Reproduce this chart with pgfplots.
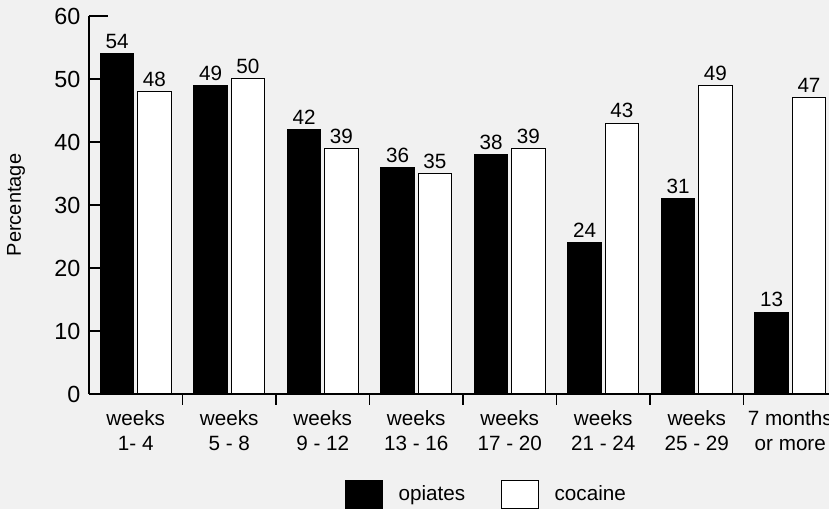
\documentclass[border=0pt]{standalone}
\usepackage{fontspec}
\setmainfont{Liberation Sans}
\usepackage{pgfplots}
\pgfplotsset{compat=1.18}
\definecolor{paper}{HTML}{F1F1F1}
\newcommand{\chartfont}{\fontsize{15.5}{18.75}\selectfont}

\begin{document}
\begin{tikzpicture}
% page frame and background
\fill[paper] (-66.75pt,-86.25pt) rectangle (555pt,295.5pt);
\useasboundingbox (-66.75pt,-86.25pt) rectangle (555pt,295.5pt);
\begin{axis}[
  at={(0pt,0pt)}, anchor=south west,
  scale only axis,
  width=555pt, height=283.5pt,
  xmin=-0.5, xmax=7.414,
  ymin=0, ymax=60,
  axis x line=bottom, axis y line=left,
  axis line style={-, line width=0.9pt},
  tick align=inside,
  tick style={line width=0.9pt, black},
  /pgf/number format/assume math mode=true,
  tick label style={font=\chartfont},
  label style={font=\fontsize{15}{18}\selectfont},
  ytick={0,10,...,50},
  extra y ticks={60},
  extra y tick style={major tick length=14.25pt},
  major tick length=8.25pt,
  yticklabel style={xshift=-3pt, font=\fontsize{17.5}{20}\selectfont},
  % group separators
  xtick={0.5,1.5,...,6.5},
  xticklabels={},
  % group names
  extra x ticks={0,...,7},
  extra x tick labels={{weeks\\1- 4},{weeks\\5 - 8},{weeks\\9 - 12},{weeks\\13 - 16},{weeks\\17 - 20},{weeks\\21 - 24},{weeks\\25 - 29},{7 months\\or more}},
  extra x tick style={major tick length=0pt,
    tick label style={align=center, yshift=-9pt}},
  ylabel={Percentage},
  ylabel style={at={(axis description cs:-0.0986,0.5)}, anchor=center},
  ybar, bar width=0.36,
  nodes near coords,
  every node near coord/.append style={font=\fontsize{15.5}{18}\selectfont, black},
  legend style={at={(0.346,-0.2646)}, anchor=west, draw=none, fill=none,
    inner sep=0pt, legend columns=2, font=\chartfont,
    /tikz/every odd column/.append style={column sep=9.5pt},
    /tikz/every even column/.append style={column sep=25pt}},
  legend image code/.code={\draw[#1, line width=0.75pt] (0pt,-10.5pt) rectangle (27.75pt,10.5pt);},
]
\addplot[fill=black, draw=black, line width=0.75pt, bar shift=-0.2]
  coordinates {(0,54) (1,49) (2,42) (3,36) (4,38) (5,24) (6,31) (7,13)};
\addplot[fill=white, draw=black, line width=0.75pt, bar shift=0.2]
  coordinates {(0,48) (1,50) (2,39) (3,35) (4,39) (5,43) (6,49) (7,47)};
\legend{opiates, cocaine}
\end{axis}
\end{tikzpicture}
\end{document}
